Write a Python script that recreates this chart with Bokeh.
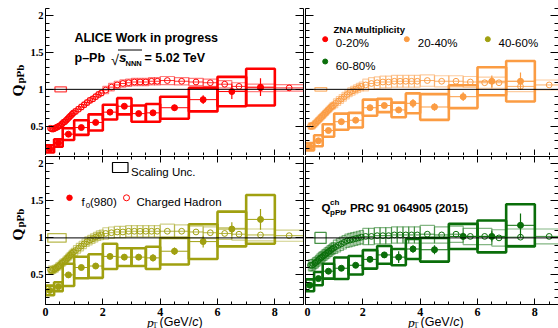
import math
from bokeh.plotting import figure
from bokeh.layouts import column
from bokeh.models import (Range1d, LinearAxis, Label, SingleIntervalTicker,
                          FixedTicker, NumeralTickFormatter, Span, GridBox)
from bokeh.embed import file_html
from bokeh.resources import INLINE

# ---------------- data ----------------
class_labels = ["0-20%", "20-40%", "40-60%", "60-80%"]
class_colors = ["#ff0000", "#fb9c43", "#a0a010", "#0a6e0a"]

# f0(980) pT bins
f0_lo = [0.0, 0.3, 0.6, 1.0, 1.5, 2.0, 2.5, 3.0, 3.5, 4.0, 5.0, 6.0, 7.0]
f0_hi = [0.3, 0.6, 1.0, 1.5, 2.0, 2.5, 3.0, 3.5, 4.0, 5.0, 6.0, 7.0, 8.0]
f0_pt = [0.15, 0.45, 0.8, 1.25, 1.75, 2.25, 2.75, 3.25, 3.75, 4.5, 5.5, 6.5, 7.5]

f0_q_0_20 = [0.19, 0.27, 0.39, 0.48, 0.55, 0.69, 0.77, 0.67, 0.68, 0.75, 0.86, 0.97, 1.03]
f0_q_20_40 = [0.22, 0.30, 0.44, 0.56, 0.58, 0.75, 0.78, 0.72, 0.81, 0.76, 0.90, 1.11, 1.11]
f0_q_40_60 = [0.29, 0.34, 0.50, 0.60, 0.62, 0.75, 0.74, 0.74, 0.73, 0.82, 0.95, 1.12, 1.25]
f0_q_60_80 = [0.36, 0.45, 0.55, 0.59, 0.63, 0.71, 0.77, 0.74, 0.85, 0.84, 1.02, 1.02, 1.17]

f0_sys_0_20 = [0.05, 0.05, 0.08, 0.10, 0.11, 0.10, 0.11, 0.11, 0.12, 0.15, 0.16, 0.20, 0.25]
f0_sys_20_40 = [0.05, 0.075, 0.085, 0.11, 0.10, 0.11, 0.09, 0.10, 0.135, 0.175, 0.155, 0.19, 0.275]
f0_sys_40_60 = [0.065, 0.06, 0.15, 0.145, 0.16, 0.17, 0.12, 0.12, 0.15, 0.18, 0.235, 0.235, 0.33]
f0_sys_60_80 = [0.08, 0.09, 0.10, 0.145, 0.125, 0.125, 0.12, 0.11, 0.135, 0.16, 0.17, 0.215, 0.285]

f0_stat_0_20 = [0.015, 0.015, 0.02, 0.02, 0.02, 0.03, 0.03, 0.03, 0.04, 0.04, 0.06, 0.10, 0.12]
f0_stat_20_40 = [0.02, 0.02, 0.02, 0.03, 0.03, 0.03, 0.03, 0.04, 0.06, 0.05, 0.06, 0.08, 0.12]
f0_stat_40_60 = [0.02, 0.02, 0.02, 0.03, 0.03, 0.03, 0.04, 0.04, 0.05, 0.05, 0.08, 0.09, 0.14]
f0_stat_60_80 = [0.02, 0.02, 0.02, 0.02, 0.03, 0.03, 0.04, 0.08, 0.05, 0.06, 0.05, 0.07, 0.16]

# charged hadron pT bin edges (PRC 91 064905)
ch_edges = [0.15, 0.20, 0.25, 0.30, 0.35, 0.40, 0.45, 0.50, 0.55, 0.60, 0.65, 0.70,
            0.75, 0.80, 0.85, 0.90, 0.95, 1.00, 1.1, 1.2, 1.3, 1.4, 1.5, 1.6, 1.7,
            1.8, 1.9, 2.0, 2.2, 2.4, 2.6, 2.8, 3.0, 3.2, 3.4, 3.6, 3.8, 4.0, 4.5,
            5.0, 5.5, 6.0, 6.5, 7.0, 8.0, 9.0]

ch_q_0_20 = [0.47, 0.46, 0.46, 0.47, 0.48, 0.49, 0.50, 0.51, 0.53, 0.55, 0.56, 0.58,
             0.60, 0.62, 0.64, 0.66, 0.68,
             0.70, 0.73, 0.76, 0.79, 0.82, 0.85, 0.87, 0.90, 0.93, 0.95,
             0.99, 1.03, 1.06, 1.08, 1.09, 1.10, 1.10, 1.10, 1.11, 1.11,
             1.12, 1.11, 1.10, 1.09, 1.07, 1.04, 1.02, 1.02]
ch_q_20_40 = [0.50, 0.50, 0.51, 0.53, 0.55, 0.57, 0.59, 0.61, 0.63, 0.65, 0.67, 0.69,
              0.71, 0.73, 0.75, 0.77, 0.78,
              0.81, 0.84, 0.87, 0.90, 0.93, 0.96, 0.98, 1.00, 1.02, 1.04,
              1.06, 1.08, 1.09, 1.10, 1.10, 1.11, 1.11, 1.11, 1.11, 1.11,
              1.12, 1.11, 1.11, 1.10, 1.09, 1.09, 1.04, 1.06]
ch_q_40_60 = [0.57, 0.56, 0.57, 0.58, 0.59, 0.61, 0.62, 0.64, 0.66, 0.67, 0.69, 0.71,
              0.73, 0.75, 0.77, 0.79, 0.81,
              0.83, 0.86, 0.89, 0.92, 0.95, 0.97, 0.99, 1.01, 1.03, 1.04,
              1.06, 1.07, 1.08, 1.08, 1.09, 1.09, 1.09, 1.09, 1.09, 1.09,
              1.09, 1.09, 1.08, 1.07, 1.06, 1.05, 1.04, 1.03]
ch_q_60_80 = [0.63, 0.63, 0.64, 0.66, 0.67, 0.69, 0.71, 0.73, 0.74, 0.76, 0.77, 0.79,
              0.80, 0.82, 0.83, 0.85, 0.86,
              0.88, 0.90, 0.92, 0.94, 0.96, 0.97, 0.98, 0.99, 1.00, 1.01,
              1.02, 1.02, 1.03, 1.03, 1.03, 1.04, 1.04, 1.04, 1.04, 1.04,
              1.05, 1.04, 1.05, 1.02, 1.02, 1.00, 1.01, 1.02]

ch_sys_0_20 = [0.03, 0.03, 0.03, 0.03, 0.03, 0.03, 0.03, 0.03, 0.03, 0.03, 0.03, 0.03,
               0.03, 0.03, 0.03, 0.03, 0.03,
               0.035, 0.035, 0.035, 0.035, 0.035, 0.035, 0.035, 0.035, 0.035, 0.035,
               0.05, 0.05, 0.05, 0.05, 0.05, 0.05, 0.05, 0.05, 0.05, 0.05,
               0.055, 0.05, 0.05, 0.05, 0.05, 0.05, 0.05, 0.045]
ch_sys_20_40 = [0.045, 0.045, 0.045, 0.045, 0.045, 0.045, 0.045, 0.045, 0.045, 0.045,
                0.045, 0.045, 0.045, 0.045, 0.045, 0.045, 0.045,
                0.06, 0.06, 0.06, 0.06, 0.06, 0.06, 0.06, 0.06, 0.06, 0.06,
                0.08, 0.08, 0.08, 0.08, 0.08, 0.08, 0.08, 0.08, 0.08, 0.08,
                0.078, 0.075, 0.075, 0.075, 0.075, 0.075, 0.07, 0.067]
ch_sys_40_60 = [0.05, 0.05, 0.05, 0.05, 0.05, 0.05, 0.05, 0.05, 0.05, 0.05, 0.05, 0.05,
                0.05, 0.05, 0.05, 0.05, 0.05,
                0.065, 0.065, 0.065, 0.065, 0.065, 0.065, 0.065, 0.065, 0.065, 0.065,
                0.077, 0.077, 0.077, 0.077, 0.077, 0.077, 0.077, 0.077, 0.077, 0.077,
                0.095, 0.085, 0.08, 0.08, 0.08, 0.08, 0.08, 0.075]
ch_sys_60_80 = [0.075, 0.075, 0.075, 0.075, 0.075, 0.075, 0.075, 0.075, 0.075, 0.075,
                0.075, 0.075, 0.075, 0.075, 0.075, 0.075, 0.075,
                0.09, 0.09, 0.09, 0.09, 0.09, 0.09, 0.09, 0.09, 0.09, 0.09,
                0.11, 0.11, 0.11, 0.11, 0.11, 0.11, 0.11, 0.11, 0.11, 0.11,
                0.12, 0.11, 0.11, 0.11, 0.11, 0.11, 0.11, 0.10]

# normalisation (scaling) uncertainty per class, drawn around unity
scale_unc = [0.033, 0.024, 0.058, 0.074]
scale_box_lo = [0.33, 0.33, 0.08, 0.33]
scale_box_hi = [0.73, 0.74, 0.72, 0.72]

# axis ticks
y_major = [0.5, 1.0, 1.5, 2.0]
y_minor = [round(0.1 * k, 1) for k in range(1, 22) if k % 5 != 0]
x_major = [0, 2, 4, 6, 8]
x_minor = [0.5 * k for k in range(0, 19) if k % 4 != 0]

# ---------------- layout geometry (page pixels) ----------------
PXU = 258 / 9.0          # pixels per GeV/c
Y0, Y1 = 0.1, 2.1


def dx(g, px):
    return (px - g["fx0"]) / PXU


def dy(g, py):
    return Y0 + (g["fy0"] + g["fh"] - py) / g["fh"] * (Y1 - Y0)


def lab(p, g, px, py, text, size, font="Liberation Sans", style="normal",
        color="black", angle=0.0):
    p.add_layout(Label(x=dx(g, px), y=dy(g, py), text=text, text_font=font,
                       text_font_size=f"{size}px", text_font_style=style,
                       text_color=color, angle=angle, text_align="left",
                       text_baseline="alphabetic"))


def base_axis(ax, line=True):
    ax.major_tick_out = 0
    ax.minor_tick_out = 0
    ax.axis_line_color = "black" if line else None
    ax.major_tick_line_color = "black"
    ax.minor_tick_line_color = "black"


def labelled_axis(p, side, dim):
    ax = LinearAxis()
    base_axis(ax)
    if dim == "x":
        ax.ticker = SingleIntervalTicker(interval=2, num_minor_ticks=4)
        ax.major_tick_in = 6
        ax.minor_tick_in = 3
        ax.major_label_text_font_size = "12px"
        ax.major_label_standoff = 3
    else:
        ax.ticker = SingleIntervalTicker(interval=0.5, num_minor_ticks=5)
        ax.major_tick_in = 8
        ax.minor_tick_in = 4
        ax.major_label_text_font_size = "10.5px"
        ax.major_label_standoff = 2
    ax.formatter = NumeralTickFormatter(format="0.[0]")
    ax.major_label_text_font = "Liberation Serif"
    ax.major_label_text_font_style = "bold"
    ax.major_label_text_color = "black"
    p.add_layout(ax, side)


def plain_axis(p, side, dim, line=True):
    # tick marks only (no labels): long ticks and short ticks as two axes
    major = x_major if dim == "x" else y_major
    minor = x_minor if dim == "x" else y_minor
    lens = (6, 3) if dim == "x" else (8, 4)
    for ticks, ln, ln_on in ((major, lens[0], line), (minor, lens[1], False)):
        ax = LinearAxis(ticker=FixedTicker(ticks=[], minor_ticks=ticks))
        base_axis(ax, ln_on)
        ax.minor_tick_in = ln
        ax.major_label_standoff = 0
        p.add_layout(ax, side)


def make_panel(col, rw):
    fw = 258 if col == 0 else 253
    fh = 147 if rw == 0 else 148
    p = figure(frame_width=fw, frame_height=fh,
               x_range=Range1d(0, fw / PXU), y_range=Range1d(Y0, Y1),
               min_border_left=45 if col == 0 else 1,
               min_border_right=1 if col == 0 else 0,
               min_border_top=8 if rw == 0 else 1,
               min_border_bottom=0 if rw == 0 else 24,
               output_backend="svg", toolbar_location=None,
               x_axis_location=None, y_axis_location=None,
               outline_line_color=None, background_fill_color="white",
               border_fill_color="white")
    p.grid.visible = False
    g = {"fx0": 45 if col == 0 else 305, "fy0": 8 if rw == 0 else 156, "fh": fh}
    if col == 0:
        labelled_axis(p, "left", "y")
    else:
        plain_axis(p, "left", "y")
    plain_axis(p, "right", "y", line=(col == 0))
    if rw == 1:
        labelled_axis(p, "below", "x")
        plain_axis(p, "above", "x")
    else:
        plain_axis(p, "below", "x")
    return p, g


def draw_class(p, color, q, sys, stat, chq, chsys, sunc, slo, shi):
    ch_lo = ch_edges[:-1]
    ch_hi = ch_edges[1:]
    ch_x = [(a + b) / 2 for a, b in zip(ch_lo, ch_hi)]
    ch_w = [max(b - a, 0.15) for a, b in zip(ch_lo, ch_hi)]
    p.quad(left=[x - w / 2 for x, w in zip(ch_x, ch_w)],
           right=[x + w / 2 for x, w in zip(ch_x, ch_w)],
           bottom=[v - s for v, s in zip(chq, chsys)],
           top=[v + s for v, s in zip(chq, chsys)],
           fill_color=None, line_color=color, line_alpha=0.5, line_width=1.2)
    p.segment(x0=ch_lo, y0=chq, x1=ch_hi, y1=chq, line_color=color,
              line_width=1, line_alpha=0.8)
    p.scatter(ch_x, chq, marker="circle", size=5.8, fill_color=None,
              line_color=color, line_width=1)
    # scaling uncertainty
    p.quad(left=[slo], right=[shi], bottom=[1 - sunc], top=[1 + sunc],
           fill_color=None, line_color=color, line_alpha=0.75, line_width=1.3)
    # f0(980)
    p.quad(left=f0_lo, right=f0_hi,
           bottom=[v - s for v, s in zip(q, sys)],
           top=[v + s for v, s in zip(q, sys)],
           fill_color=None, line_color=color, line_width=2.6)
    p.segment(x0=f0_lo, y0=q, x1=f0_hi, y1=q, line_color=color, line_width=1)
    p.segment(x0=f0_pt, y0=[v - s for v, s in zip(q, stat)],
              x1=f0_pt, y1=[v + s for v, s in zip(q, stat)],
              line_color=color, line_width=1.2)
    p.scatter(f0_pt, q, marker="circle", size=6, fill_color=color,
              line_color=color)
    p.add_layout(Span(location=1, dimension="width", line_color="black",
                      line_width=1))


series = [
    (f0_q_0_20, f0_sys_0_20, f0_stat_0_20, ch_q_0_20, ch_sys_0_20),
    (f0_q_20_40, f0_sys_20_40, f0_stat_20_40, ch_q_20_40, ch_sys_20_40),
    (f0_q_40_60, f0_sys_40_60, f0_stat_40_60, ch_q_40_60, ch_sys_40_60),
    (f0_q_60_80, f0_sys_60_80, f0_stat_60_80, ch_q_60_80, ch_sys_60_80),
]

panels = []
for i, (q, sy, st, chq, chs) in enumerate(series):
    col, rw = i % 2, i // 2
    p, g = make_panel(col, rw)
    draw_class(p, class_colors[i], q, sy, st, chq, chs, scale_unc[i],
               scale_box_lo[i], scale_box_hi[i])
    panels.append((p, g))

(tl, gtl), (tr, gtr), (bl, gbl), (br, gbr) = panels

# ---- top-left texts ----
lab(tl, gtl, 74, 37, "ALICE Work in progress", 12.5, style="bold")
lab(tl, gtl, 74, 57, "p\u2013Pb", 12.5, style="bold")
lab(tl, gtl, 110.5, 59, "\u221a", 14.5)
tl.segment(x0=[dx(gtl, 117.5)], y0=[dy(gtl, 49.5)], x1=[dx(gtl, 141.5)],
           y1=[dy(gtl, 49.5)], line_color="black", line_width=1)
lab(tl, gtl, 118.5, 57, "s", 13.5, style="bold italic")
lab(tl, gtl, 125, 62.5, "NNN", 7.5, style="bold")
lab(tl, gtl, 144, 57, "= 5.02 TeV", 12.5, style="bold")

# ---- top-right legend ----
lab(tr, gtr, 333, 29, "ZNA Multiplicity", 9.5, style="bold")
leg_px = [324.7, 406.3, 487.3, 324.7]
leg_py = [38.7, 38.7, 38.7, 61.0]
leg_tx = [335.3, 417.3, 498.0, 335.3]
leg_ty = [42.8, 42.8, 42.8, 65.0]
tr.scatter([dx(gtr, v) for v in leg_px], [dy(gtr, v) for v in leg_py],
           marker="circle", size=5, color=class_colors)
for i, name in enumerate(class_labels):
    lab(tr, gtr, leg_tx[i], leg_ty[i], name, 11.5)

# ---- bottom-left legend ----
bl.quad(left=[dx(gbl, 112)], right=[dx(gbl, 127.5)], bottom=[dy(gbl, 172)],
        top=[dy(gbl, 162)], fill_color=None, line_color="black", line_width=1.2)
lab(bl, gbl, 130.5, 171, "Scaling Unc.", 11.5)
bl.scatter([dx(gbl, 69)], [dy(gbl, 197.3)], marker="circle", size=5.5, color="#ff0000")
lab(bl, gbl, 81, 201.5, "f", 11.5)
lab(bl, gbl, 85.2, 204.5, "0", 8)
lab(bl, gbl, 89.5, 201.5, "(980)", 11.5)
bl.scatter([dx(gbl, 126)], [dy(gbl, 197.3)], marker="circle", size=6,
           fill_color=None, line_color="#ff0000", line_width=1)
lab(bl, gbl, 136, 201.5, "Charged Hadron", 11.5)

# ---- bottom-right reference text ----
lab(br, gbr, 321, 207.5, "Q", 11.5, style="bold")
lab(br, gbr, 329.5, 201.5, "ch", 8, style="bold")
lab(br, gbr, 329.5, 211.5, "pPb", 8, style="bold")
lab(br, gbr, 343, 207.5, ", PRC 91 064905 (2015)", 11.5, style="bold")

# ---- transparent overlay (page pixel coordinates) for the axis titles ----
ov = figure(frame_width=558, frame_height=328, x_range=Range1d(0, 558),
            y_range=Range1d(328, 0), min_border_left=0, min_border_right=0,
            min_border_top=0, min_border_bottom=0, output_backend="svg",
            toolbar_location=None, x_axis_location=None, y_axis_location=None,
            outline_line_color=None, background_fill_color=None,
            border_fill_color=None)
ov.grid.visible = False


def olab(px, py, text, size, font="Liberation Sans", style="normal", angle=0.0):
    ov.add_layout(Label(x=px, y=py, text=text, text_font=font,
                        text_font_size=f"{size}px", text_font_style=style,
                        text_color="black", angle=angle, text_align="left",
                        text_baseline="alphabetic"))


for yq, ys in ((96, 83), (240, 227)):
    olab(17, yq, "Q", 15.5, font="Liberation Serif", style="bold", angle=math.pi / 2)
    olab(19.5, ys, "pPb", 11, font="Liberation Serif", style="bold", angle=math.pi / 2)

for off in (0, 261):
    olab(146.5 + off, 321.5, "p", 13.5, font="Liberation Serif", style="italic")
    olab(152.3 + off, 324.5, "T", 7.5, font="Liberation Serif")
    olab(159 + off, 321.5, "(GeV/", 12.5)
    olab(191.7 + off, 321.5, "c", 12.5, style="italic")
    olab(198 + off, 321.5, ")", 12.5)

ov_box = column(ov, spacing=0)
layout = GridBox(children=[(tl, 0, 0), (tr, 0, 1), (bl, 1, 0), (br, 1, 1),
                           (ov_box, 0, 0, 2, 2)], spacing=0)
open("out.html", "w").write(file_html(layout, INLINE))
